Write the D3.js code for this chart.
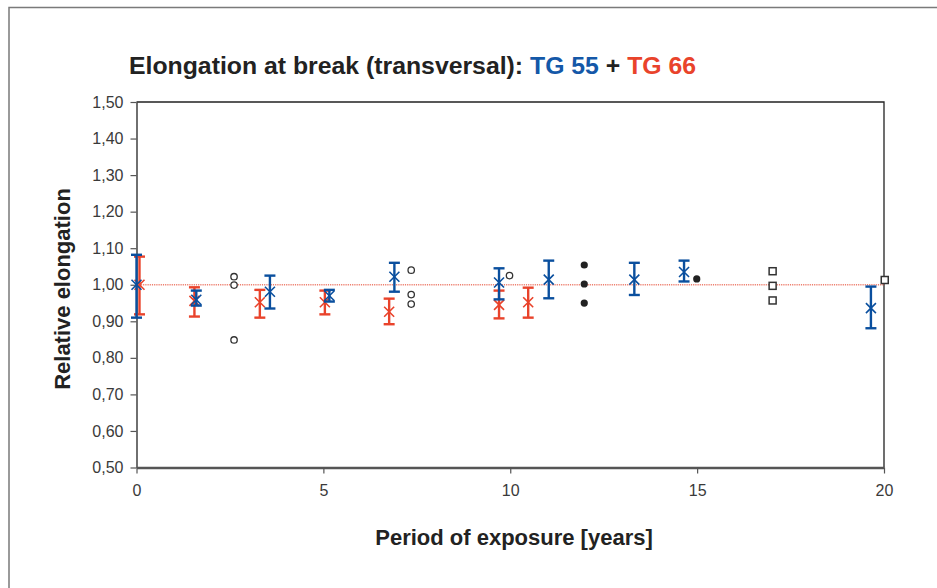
<!DOCTYPE html>
<html><head><meta charset="utf-8">
<script src="https://cdn.jsdelivr.net/npm/d3@7"></script>
<style>
html,body{margin:0;padding:0;background:#fff;}
svg{display:block;font-family:"Liberation Sans",Arial,sans-serif;}
</style></head>
<body><svg id="c" width="937" height="588"></svg>
<script>
// TG 55 (blue)
const tg55Years = [0, 1.6, 3.57, 5.16, 6.9, 9.7, 11.03, 13.32, 14.65, 19.65];
const tg55Value = [1.000, 0.959, 0.981, 0.970, 1.022, 1.006, 1.014, 1.014, 1.035, 0.936];
const tg55Low   = [0.910, 0.943, 0.935, 0.954, 0.981, 0.960, 0.963, 0.972, 1.009, 0.881];
const tg55High  = [1.082, 0.984, 1.025, 0.986, 1.060, 1.045, 1.066, 1.060, 1.066, 0.995];
// TG 66 (red)
const tg66Years = [0.08, 1.55, 3.3, 5.04, 6.76, 9.7, 10.48];
const tg66Value = [1.000, 0.956, 0.952, 0.952, 0.926, 0.945, 0.952];
const tg66Low   = [0.919, 0.913, 0.910, 0.919, 0.892, 0.908, 0.910];
const tg66High  = [1.077, 0.993, 0.986, 0.984, 0.962, 0.984, 0.992];
// other reference data
const openCircleYears = [2.61, 2.61, 2.61, 7.35, 7.35, 7.35, 9.98];
const openCircleValues = [1.022, 0.999, 0.849, 1.040, 0.973, 0.947, 1.025];
const filledCircleYears = [11.98, 11.98, 11.98, 14.99];
const filledCircleValues = [1.054, 1.002, 0.950, 1.016];
const squareYears = [17.02, 17.02, 17.02, 20.02];
const squareValues = [1.037, 0.997, 0.957, 1.013];
const xTicks = [0, 5, 10, 15, 20];
const yTicks = [0.5, 0.6, 0.7, 0.8, 0.9, 1.0, 1.1, 1.2, 1.3, 1.4, 1.5];

const BLUE = "#0a4f9e", RED = "#e9432b";
const FONT = "Liberation Sans, Arial, sans-serif";
const svg = d3.select("#c");
const m = {l:136.5, r:884, t:102, b:467.5};
const x = d3.scaleLinear().domain([0,20]).range([m.l, m.r]);
const y = d3.scaleLinear().domain([0.5,1.5]).range([m.b, m.t]);

// outer frame
svg.append("rect").attr("x",9).attr("y",7.5).attr("width",1000).attr("height",1000)
  .attr("fill","none").attr("stroke","#7a7a7a").attr("stroke-width",1.5);

// title
const title = svg.append("text").attr("x",129).attr("y",74)
  .attr("font-size",24.8).attr("font-weight","bold").attr("fill","#222");
title.append("tspan").text("Elongation at break (transversal): ");
title.append("tspan").attr("fill","#1458a8").text("TG 55");
title.append("tspan").text(" + ");
title.append("tspan").attr("fill",RED).text("TG 66");

// plot frame top/right
svg.append("path").attr("d",`M${m.l},${m.t}H${m.r}V${m.b}`).attr("fill","none")
  .attr("stroke","#222").attr("stroke-width",1.3);

// axes
const yAxis = d3.axisLeft(y).tickValues(yTicks).tickSize(6).tickSizeOuter(0)
  .tickFormat(d => d3.format(".2f")(d).replace(".", ","));
const gy = svg.append("g").attr("transform",`translate(${m.l},0)`).call(yAxis)
  .attr("font-size",16).attr("font-family",FONT);
gy.select(".domain").attr("stroke","#222").attr("stroke-width",1.3);
gy.selectAll(".tick line").attr("stroke","#555").attr("stroke-width",1.2);
gy.selectAll(".tick text").attr("fill","#3a3a3a").attr("x",-13);

const xAxis = d3.axisBottom(x).tickValues(xTicks).tickSize(6).tickSizeOuter(0).tickFormat(d3.format("d"));
const gx = svg.append("g").attr("transform",`translate(0,${m.b})`).call(xAxis)
  .attr("font-size",16).attr("font-family",FONT);
gx.select(".domain").attr("stroke","#555").attr("stroke-width",2.5);
gx.selectAll(".tick line").attr("stroke","#555").attr("stroke-width",1.2);
gx.selectAll(".tick text").attr("fill","#3a3a3a").attr("y",17);

// axis titles
svg.append("text").attr("transform",`translate(70,289) rotate(-90)`)
  .attr("text-anchor","middle").attr("font-size",22).attr("font-weight","bold").attr("fill","#222")
  .text("Relative elongation");
svg.append("text").attr("x",514).attr("y",545).attr("text-anchor","middle")
  .attr("font-size",22).attr("font-weight","bold").attr("fill","#222")
  .text("Period of exposure [years]");

// reference line at 1.00
svg.append("line").attr("x1",x(0)).attr("x2",x(20)).attr("y1",y(1)).attr("y2",y(1))
  .attr("stroke","#e8553f").attr("stroke-width",1.5).attr("stroke-dasharray","1.2,1").attr("opacity",0.75);

// series with error bars
function series(years, vals, lo, hi, color){
  const g = svg.append("g");
  years.forEach((yr,i)=>{
    const cx = x(yr), half = 5.5;
    g.append("line").attr("x1",cx).attr("x2",cx).attr("y1",y(lo[i])).attr("y2",y(hi[i]))
      .attr("stroke",color).attr("stroke-width",2.4);
    [lo[i],hi[i]].forEach(v=>g.append("line").attr("x1",cx-half).attr("x2",cx+half)
      .attr("y1",y(v)).attr("y2",y(v)).attr("stroke",color).attr("stroke-width",2.4));
    const cy = y(vals[i]), s = 5;
    g.append("path").attr("d",`M${cx-s},${cy-s}L${cx+s},${cy+s}M${cx-s},${cy+s}L${cx+s},${cy-s}`)
      .attr("stroke",color).attr("stroke-width",1.6).attr("fill","none");
  });
}
series(tg66Years, tg66Value, tg66Low, tg66High, RED);
series(tg55Years, tg55Value, tg55Low, tg55High, BLUE);

// open circles
svg.append("g").selectAll("circle").data(openCircleYears).join("circle")
  .attr("cx",d=>x(d)).attr("cy",(d,i)=>y(openCircleValues[i])).attr("r",3.2)
  .attr("fill","#fff").attr("stroke","#333").attr("stroke-width",1.3);
// filled circles
svg.append("g").selectAll("circle").data(filledCircleYears).join("circle")
  .attr("cx",d=>x(d)).attr("cy",(d,i)=>y(filledCircleValues[i])).attr("r",3.6)
  .attr("fill","#222");
// squares
svg.append("g").selectAll("rect").data(squareYears).join("rect")
  .attr("x",d=>x(d)-3.5).attr("y",(d,i)=>y(squareValues[i])-3.5).attr("width",7).attr("height",7)
  .attr("fill","#fff").attr("stroke","#333").attr("stroke-width",1.5);
</script></body></html>
